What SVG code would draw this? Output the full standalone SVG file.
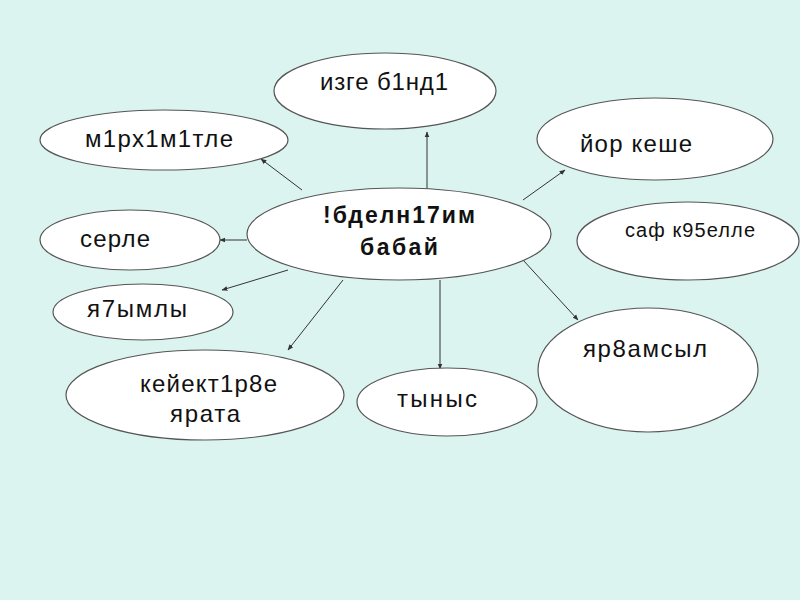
<svg xmlns="http://www.w3.org/2000/svg" width="800" height="600" viewBox="0 0 800 600">
<defs>
<style>
.n ellipse{fill:#fff;stroke:#555;stroke-width:1.2}
.n text{font-family:"Liberation Sans",Arial,sans-serif;font-size:24px;fill:#111}
.n text.b{font-weight:bold;font-size:23px}
.n text.s{font-size:20px}
#edges line{stroke:#333;stroke-width:1;marker-end:url(#ah)}
</style>
<marker id="ah" viewBox="0 0 10 10" refX="9" refY="5" markerWidth="6" markerHeight="6" orient="auto" markerUnits="userSpaceOnUse">
<path d="M0,1 L10,5 L0,9 Z" fill="#333"/>
</marker>
</defs>
<rect width="800" height="600" fill="#dcf4ef"/>
<g id="edges">
<line x1="427" y1="189" x2="427" y2="132"/>
<line x1="523" y1="200" x2="565" y2="170"/>
<line x1="302" y1="190" x2="261" y2="159"/>
<line x1="247" y1="240" x2="220" y2="240"/>
<line x1="288" y1="270" x2="222" y2="290"/>
<line x1="343" y1="280" x2="288" y2="350"/>
<line x1="440" y1="280" x2="440" y2="369"/>
<line x1="523" y1="260" x2="578" y2="320"/>
</g>
<g id="izge" class="n"><ellipse cx="385" cy="91" rx="111" ry="38"/><text x="320" y="90" textLength="128">изге б1нд1</text></g>
<g id="yor" class="n"><ellipse cx="655" cy="139" rx="118" ry="41"/><text x="580" y="152" textLength="112">йор кеше</text></g>
<g id="marhamat" class="n"><ellipse cx="164" cy="140" rx="124" ry="30"/><text x="85" y="147" textLength="148">м1рх1м1тле</text></g>
<g id="serle" class="n"><ellipse cx="130" cy="240" rx="90" ry="30"/><text x="80" y="247" textLength="70">серле</text></g>
<g id="safk" class="n"><ellipse cx="688" cy="241" rx="111" ry="39"/><text class="s" x="625" y="237" textLength="130">саф к95елле</text></g>
<g id="yamly" class="n"><ellipse cx="143" cy="312" rx="90" ry="28"/><text x="87" y="317" textLength="100">я7ымлы</text></g>
<g id="yardam" class="n"><ellipse cx="648" cy="370" rx="110" ry="62"/><text x="583" y="357" textLength="124">яр8амсыл</text></g>
<g id="keyek" class="n"><ellipse cx="205" cy="395" rx="139" ry="45"/><text x="140" y="392" textLength="137">кейект1р8е</text><text x="170" y="422" textLength="70">ярата</text></g>
<g id="tynys" class="n"><ellipse cx="447" cy="402" rx="90" ry="34"/><text x="397" y="407" textLength="80">тыныс</text></g>
<g id="center" class="n"><ellipse cx="399" cy="234" rx="152" ry="46"/><text class="b" x="323" y="223" textLength="152">!бделн17им</text><text class="b" x="360" y="255" textLength="78">бабай</text></g>
</svg>
